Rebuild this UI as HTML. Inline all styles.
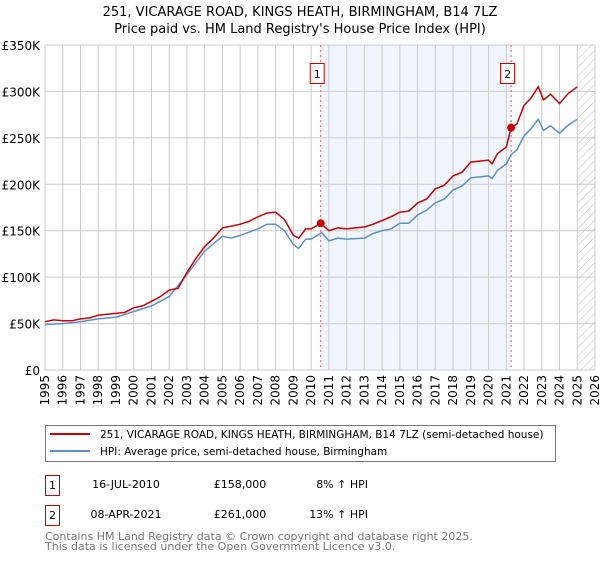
<!DOCTYPE html>
<html><head><meta charset="utf-8"><style>
body{margin:0;background:#fff;font-family:"DejaVu Sans","Liberation Sans",sans-serif;}
svg text{font-family:"DejaVu Sans","Liberation Sans",sans-serif;}
</style></head><body>
<svg id="chart" width="600" height="560" xmlns="http://www.w3.org/2000/svg">
<defs><pattern id="hatch" width="6" height="6" patternUnits="userSpaceOnUse" patternTransform="rotate(45)"><line x1="0" y1="0" x2="0" y2="6" stroke="#bbb" stroke-width="1"/></pattern></defs>
<text x="300" y="16" font-size="13" text-anchor="middle" fill="#000">251, VICARAGE ROAD, KINGS HEATH, BIRMINGHAM, B14 7LZ</text>
<text x="300" y="33" font-size="13" text-anchor="middle" fill="#000">Price paid vs. HM Land Registry's House Price Index (HPI)</text>
<g id="plot"></g>
<rect x="45.5" y="425.5" width="510" height="36" fill="#fff" stroke="#777"/>
<line x1="50" y1="434" x2="90" y2="434" stroke="#cc0000" stroke-width="2"/>
<text x="100" y="438" font-size="10.5">251, VICARAGE ROAD, KINGS HEATH, BIRMINGHAM, B14 7LZ (semi-detached house)</text>
<line x1="50" y1="451" x2="90" y2="451" stroke="#5b8fd0" stroke-width="2"/>
<text x="100" y="455" font-size="10.5">HPI: Average price, semi-detached house, Birmingham</text>
<g font-size="11">
<rect x="45.5" y="475.5" width="14" height="20" fill="#fff" stroke="#cc0000"/>
<text x="52.5" y="489" text-anchor="middle">1</text>
<text x="126" y="488" text-anchor="middle">16-JUL-2010</text>
<text x="240" y="488" text-anchor="middle">£158,000</text>
<text x="368" y="488" text-anchor="end">8% ↑ HPI</text></g>
<g font-size="11">
<rect x="45.5" y="505.5" width="14" height="20" fill="#fff" stroke="#cc0000"/>
<text x="52.5" y="519" text-anchor="middle">2</text>
<text x="126" y="518" text-anchor="middle">08-APR-2021</text>
<text x="240" y="518" text-anchor="middle">£261,000</text>
<text x="368" y="518" text-anchor="end">13% ↑ HPI</text></g>
<text x="45" y="540" font-size="11" fill="#777">Contains HM Land Registry data © Crown copyright and database right 2025.</text>
<text x="45" y="550" font-size="11" fill="#777">This data is licensed under the Open Government Licence v3.0.</text>
</svg>
<script>
const yTicks=[0,50000,100000,150000,200000,250000,300000,350000];
const yTickLabels=["£0","£50K","£100K","£150K","£200K","£250K","£300K","£350K"];
const years=[1995,1996,1997,1998,1999,2000,2001,2002,2003,2004,2005,2006,2007,2008,2009,2010,2011,2012,2013,2014,2015,2016,2017,2018,2019,2020,2021,2022,2023,2024,2025,2026];
const redT=[1995,1995.5,1996,1996.5,1997,1997.5,1998,1998.5,1999,1999.5,2000,2000.5,2001,2001.5,2002,2002.5,2003,2003.5,2004,2004.5,2005,2005.5,2006,2006.5,2007,2007.5,2008,2008.5,2009,2009.3,2009.7,2010,2010.54,2011,2011.5,2012,2012.5,2013,2013.5,2014,2014.5,2015,2015.5,2016,2016.5,2017,2017.5,2018,2018.5,2019,2019.5,2020,2020.2,2020.5,2021,2021.27,2021.6,2022,2022.4,2022.8,2023.1,2023.5,2024,2024.5,2025];
const redV=[52,54,53,53,55,56,59,60,61,62,67,69,74,79,86,88,105,120,133,142,153,155,157,160,165,169,170,162,145,142,152,152,158,150,153,152,153,154,157,161,165,170,171,180,184,195,199,209,213,224,225,226,222,233,240,261,265,285,293,305,291,297,287,298,305];
const blueT=[1995,1996,1997,1998,1999,2000,2001,2002,2003,2004,2005,2005.5,2006,2007,2007.5,2008,2008.5,2009,2009.3,2009.7,2010,2010.6,2011,2011.5,2012,2013,2013.5,2014,2014.5,2015,2015.5,2016,2016.5,2017,2017.5,2018,2018.5,2019,2019.5,2020,2020.2,2020.5,2021,2021.27,2021.6,2022,2022.4,2022.8,2023.1,2023.5,2024,2024.5,2025];
const blueV=[49,50,52,55,57,63,69,79,103,128,144,142,145,152,157,157,150,135,131,141,141,148,139,142,141,142,147,150,152,158,158,167,172,180,184,194,198,207,208,209,206,215,222,232,237,252,260,270,258,263,255,264,270];
const saleT=[2010.54,2021.27];
const saleV=[158,261];
const saleLabels=["1","2"];
const NS="http://www.w3.org/2000/svg";
const L=45,R=595,T=45,B=370;
const x=t=>L+(t-1995)/(2026-1995)*(R-L);
const y=v=>B-v/350000*(B-T);
const g=document.getElementById('plot');
function mk(tag,attrs){const e=document.createElementNS(NS,tag);for(const k in attrs)e.setAttribute(k,attrs[k]);g.appendChild(e);return e;}
let e=mk('rect',{x:x(saleT[0]),y:T,width:x(saleT[1])-x(saleT[0]),height:B-T,fill:'#eef3fc',opacity:0.8});


e=mk('rect',{x:x(2025.05),y:T,width:R-x(2025.05),height:B-T,fill:'url(#hatch)'});


years.forEach(yr=>{
 const l=mk('line',{x1:x(yr),x2:x(yr),y1:T,y2:B,stroke:'#ccc'});
 
 
 const tx=x(yr)+4;
 const t=mk('text',{x:tx,y:375,'font-size':12,'text-anchor':'end',transform:`rotate(-90 ${tx} 375)`});
 t.textContent=yr;
 
 
});
yTicks.forEach((v,i)=>{
 const l=mk('line',{x1:L,x2:R,y1:y(v),y2:y(v),stroke:'#ccc'});
 
 
 const t=mk('text',{x:40,y:y(v)+5,'font-size':12,'text-anchor':'end'});
 t.textContent=yTickLabels[i];
 
 
});
saleT.forEach((t,i)=>{
 const l=mk('line',{x1:x(t),x2:x(t),y1:T,y2:B,stroke:'#e06060','stroke-dasharray':'2,3'});
 
 
 const r=mk('rect',{x:x(t)-10.5,y:63.5,width:14,height:20,fill:'#fff',stroke:'#cc0000'});
 
 
 const tx=mk('text',{x:x(t)-3.5,y:78,'font-size':11,'text-anchor':'middle'});
 tx.textContent=saleLabels[i];
 
 
});
function path(ts,vs,col,name){
 const d=ts.map((t,i)=>(i?'L':'M')+x(t).toFixed(1)+','+y(vs[i]*1000).toFixed(1)).join('');
 const p=mk('path',{d:d,fill:'none',stroke:col,'stroke-width':1.5});
 
 
}
path(blueT,blueV,'#5b8fd0','hpi-line');
path(redT,redV,'#cc0000','property-line');
saleT.forEach((t,i)=>{
 const c=mk('circle',{cx:x(t),cy:y(saleV[i]*1000),r:4,fill:'#cc0000'});
 
 
});
</script>
</body></html>
